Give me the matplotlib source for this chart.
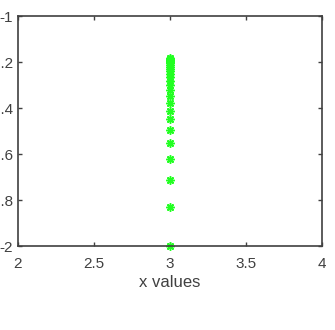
import matplotlib
matplotlib.use('Agg')
import matplotlib.pyplot as plt

# iterates: x stays at 3, y converges toward about -1.18
x_vals = [3] * 26
y_vals = [-2.0, -1.83, -1.713, -1.622, -1.552, -1.496, -1.448, -1.413, -1.378,
          -1.348, -1.322, -1.300, -1.283, -1.265, -1.252, -1.239, -1.230, -1.222,
          -1.213, -1.205, -1.200, -1.196, -1.192, -1.188, -1.185, -1.183]
x_ticks = [2, 2.5, 3, 3.5, 4]
y_ticks = [-2, -1.8, -1.6, -1.4, -1.2, -1]

plt.rcParams['font.family'] = ['Liberation Sans', 'DejaVu Sans']
grey = '#404040'

fig = plt.figure(figsize=(3.35, 3.30), dpi=100)
ax = fig.add_axes([18 / 335, 84 / 330, 304 / 335, 230 / 330])
ax.plot(x_vals, y_vals, linestyle='none', marker=(8, 2, 0), markersize=6,
        color='#22ff22', markeredgewidth=1.1, clip_on=False)
ax.set_xlim(2, 4)
ax.set_ylim(-2, -1)
ax.set_xticks(x_ticks)
ax.set_xticklabels(['2', '2.5', '3', '3.5', '4'])
ax.set_yticks(y_ticks)
ax.set_yticklabels(['-2', '-1.8', '-1.6', '-1.4', '-1.2', '-1'])
ax.tick_params(direction='in', length=3, width=1, colors=grey, labelsize=11,
               top=True, right=True)
ax.tick_params(axis='x', pad=8)
ax.tick_params(axis='y', pad=3.5)
for s in ax.spines.values():
    s.set_color(grey)
    s.set_linewidth(1.2)
ax.set_xlabel('x values', fontsize=12, color=grey, labelpad=3)
fig.savefig('out.png', dpi=100)
